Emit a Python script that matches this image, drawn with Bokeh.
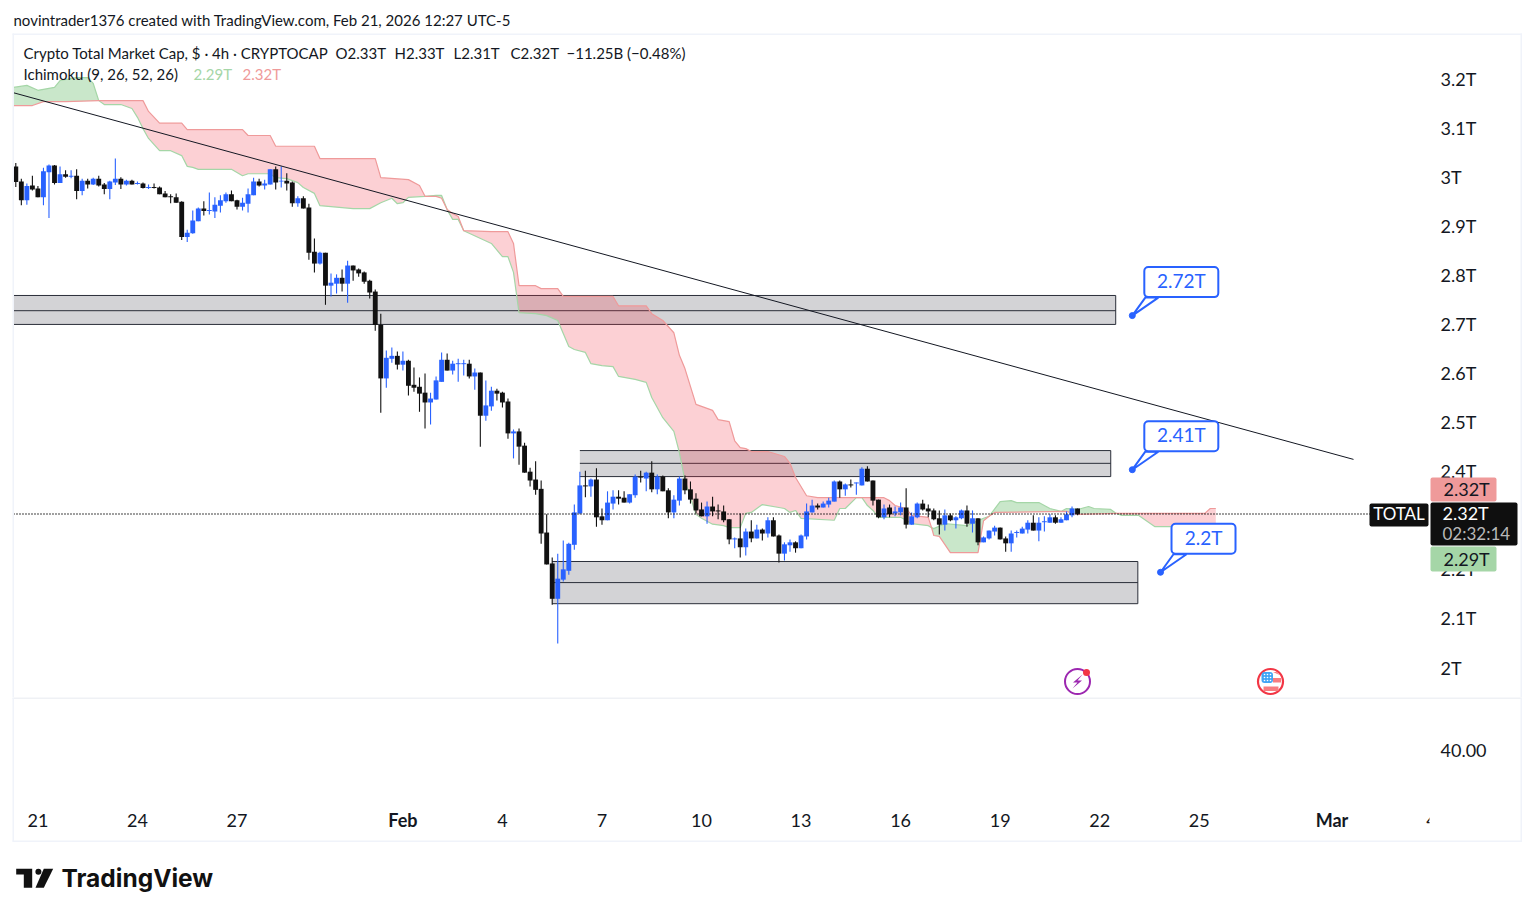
from bokeh.plotting import figure
from bokeh.layouts import column
from bokeh.models import Range1d, FixedTicker, Label, BoxAnnotation
from bokeh.embed import file_html
from bokeh.resources import INLINE

# ---------- candles (4h, values in trillions) ----------
opens = [3.021,2.990,2.952,2.982,2.976,2.958,3.009,3.023,2.987,3.005,
3.000,3.002,2.971,2.992,2.984,2.996,2.984,2.975,2.988,2.996,
2.984,2.992,2.985,2.986,2.977,2.979,2.978,2.966,2.960,2.958,
2.949,2.877,2.885,2.909,2.935,2.930,2.929,2.941,2.950,2.964,
2.952,2.939,2.945,2.962,2.990,2.982,2.984,3.015,2.990,2.992,
2.988,2.946,2.956,2.937,2.847,2.823,2.845,2.778,2.782,2.794,
2.782,2.819,2.811,2.805,2.788,2.766,2.698,2.589,2.629,2.635,
2.617,2.625,2.576,2.572,2.560,2.540,2.546,2.582,2.627,2.605,
2.618,2.618,2.619,2.593,2.601,2.513,2.532,2.564,2.560,2.542,
2.477,2.481,2.452,2.399,2.383,2.364,2.275,2.212,2.140,2.179,
2.197,2.250,2.314,2.371,2.369,2.383,2.308,2.300,2.334,2.348,
2.346,2.336,2.351,2.389,2.385,2.397,2.363,2.389,2.361,2.316,
2.340,2.385,2.363,2.344,2.322,2.308,2.328,2.320,2.318,2.302,
2.261,2.263,2.245,2.277,2.263,2.281,2.273,2.300,2.269,2.232,
2.249,2.255,2.243,2.267,2.316,2.330,2.326,2.332,2.338,2.379,
2.363,2.373,2.375,2.371,2.405,2.381,2.342,2.306,2.326,2.314,
2.316,2.326,2.291,2.306,2.334,2.324,2.320,2.304,2.291,2.310,
2.300,2.304,2.320,2.293,2.304,2.255,2.263,2.277,2.285,2.263,
2.253,2.274,2.273,2.281,2.295,2.279,2.296,2.295,2.306,2.295,
2.300,2.310,2.324]
highs = [3.028,2.996,2.986,3.002,2.981,3.018,3.025,3.024,3.021,3.013,
3.013,3.015,2.996,2.996,2.998,3.002,2.987,2.992,3.037,2.999,
2.994,2.994,2.990,2.988,2.984,2.986,2.980,2.971,2.964,2.966,
2.950,2.892,2.931,2.937,2.950,2.968,2.958,2.962,2.968,2.972,
2.953,2.957,2.976,2.998,2.996,2.994,3.015,3.021,3.021,3.007,
2.990,2.960,2.960,2.945,2.874,2.847,2.845,2.803,2.801,2.811,
2.829,2.819,2.813,2.807,2.790,2.770,2.721,2.646,2.652,2.644,
2.644,2.627,2.611,2.591,2.599,2.560,2.593,2.642,2.640,2.625,
2.629,2.627,2.627,2.609,2.601,2.585,2.572,2.568,2.562,2.548,
2.485,2.487,2.458,2.407,2.420,2.381,2.312,2.224,2.232,2.259,
2.254,2.332,2.399,2.401,2.385,2.406,2.324,2.359,2.361,2.361,
2.359,2.353,2.393,2.401,2.399,2.420,2.393,2.391,2.365,2.351,
2.389,2.391,2.379,2.355,2.336,2.338,2.348,2.332,2.330,2.302,
2.265,2.314,2.283,2.300,2.291,2.283,2.306,2.306,2.271,2.255,
2.261,2.257,2.271,2.334,2.342,2.334,2.338,2.346,2.381,2.381,
2.375,2.383,2.377,2.408,2.410,2.381,2.342,2.332,2.332,2.328,
2.336,2.365,2.316,2.336,2.342,2.332,2.324,2.320,2.322,2.314,
2.308,2.322,2.330,2.320,2.304,2.267,2.279,2.289,2.285,2.267,
2.279,2.279,2.287,2.300,2.310,2.306,2.308,2.312,2.310,2.306,
2.318,2.328,2.324]
lows = [2.979,2.942,2.943,2.972,2.958,2.942,2.916,2.984,2.987,2.998,
2.997,2.954,2.962,2.976,2.983,2.980,2.964,2.954,2.983,2.975,
2.982,2.984,2.984,2.976,2.975,2.976,2.964,2.958,2.946,2.947,
2.871,2.867,2.884,2.909,2.921,2.923,2.916,2.927,2.947,2.950,
2.933,2.931,2.927,2.962,2.980,2.974,2.984,2.974,2.978,2.972,
2.939,2.939,2.935,2.831,2.805,2.821,2.739,2.756,2.762,2.766,
2.743,2.788,2.796,2.782,2.752,2.686,2.519,2.570,2.621,2.607,
2.605,2.554,2.562,2.521,2.487,2.495,2.546,2.582,2.605,2.597,
2.582,2.595,2.589,2.566,2.450,2.503,2.523,2.544,2.530,2.466,
2.426,2.413,2.397,2.369,2.352,2.252,2.210,2.128,2.049,2.175,
2.189,2.240,2.312,2.347,2.348,2.287,2.291,2.300,2.322,2.332,
2.336,2.334,2.346,2.377,2.359,2.357,2.353,2.359,2.304,2.304,
2.330,2.353,2.334,2.314,2.308,2.293,2.308,2.302,2.296,2.251,
2.243,2.224,2.228,2.255,2.263,2.259,2.265,2.267,2.214,2.218,
2.236,2.234,2.243,2.261,2.316,2.322,2.326,2.326,2.338,2.346,
2.350,2.367,2.352,2.371,2.379,2.330,2.304,2.302,2.306,2.308,
2.310,2.283,2.291,2.304,2.320,2.306,2.300,2.271,2.279,2.298,
2.283,2.302,2.287,2.275,2.249,2.255,2.261,2.269,2.261,2.236,
2.236,2.265,2.273,2.273,2.279,2.257,2.277,2.295,2.293,2.295,
2.300,2.306,2.310]
closes = [2.989,2.952,2.981,2.974,2.958,3.011,3.023,2.987,3.005,3.000,
3.002,2.971,2.992,2.984,2.996,2.982,2.975,2.990,2.996,2.984,
2.992,2.984,2.987,2.977,2.979,2.977,2.964,2.958,2.958,2.947,
2.877,2.886,2.911,2.935,2.930,2.932,2.943,2.952,2.964,2.950,
2.939,2.947,2.964,2.990,2.982,2.986,3.015,2.988,2.992,2.986,
2.946,2.956,2.935,2.845,2.823,2.845,2.778,2.784,2.794,2.782,
2.819,2.809,2.803,2.786,2.764,2.698,2.589,2.631,2.635,2.617,
2.625,2.574,2.570,2.558,2.540,2.548,2.585,2.627,2.605,2.619,
2.620,2.620,2.593,2.601,2.513,2.534,2.564,2.558,2.540,2.477,
2.481,2.450,2.397,2.381,2.362,2.273,2.210,2.140,2.181,2.200,
2.252,2.316,2.371,2.369,2.383,2.306,2.300,2.336,2.348,2.344,
2.336,2.353,2.389,2.387,2.397,2.363,2.389,2.359,2.316,2.342,
2.385,2.361,2.342,2.320,2.308,2.328,2.318,2.318,2.300,2.261,
2.263,2.245,2.277,2.263,2.281,2.273,2.300,2.267,2.232,2.251,
2.255,2.243,2.269,2.318,2.330,2.326,2.334,2.340,2.379,2.363,
2.373,2.371,2.377,2.405,2.379,2.340,2.306,2.324,2.312,2.318,
2.326,2.291,2.308,2.334,2.322,2.318,2.302,2.291,2.310,2.300,
2.306,2.320,2.293,2.304,2.255,2.265,2.279,2.285,2.261,2.253,
2.273,2.276,2.283,2.295,2.279,2.295,2.298,2.306,2.295,2.302,
2.312,2.324,2.313]

# ---------- Ichimoku cloud, read at the candle slots where the lines bend ----------
span_a_i = [-0.4,2,4,5,7,8,11,13,14,15,16,19,21,22,23,24,26,28,30,31,32,33,39,41,42,46,47,49,51,52,54,55,61,64,66,68,69,70,71,74,76,77,78,79,80,81,86,88,89,90,91,94,96,98,100,101,103,104,106,108,109,112,114,115,117,119,120,121,123,124,126,128,129,131,132,133,135,138,139,140,141,142,148,149,150,152,153,154,155,156,160,161,162,165,165.6,166,168,172,175,176,178,180,181,185,187,189,190,192,194,195,198,199,200,203,206,209,211,214,217]
span_a = [3.182,3.186,3.176,3.178,3.182,3.196,3.202,3.202,3.190,3.155,3.147,3.147,3.139,3.121,3.098,3.078,3.053,3.053,3.043,3.021,3.019,3.015,3.015,3.002,3.006,3.006,2.998,2.996,2.988,2.978,2.966,2.941,2.935,2.935,2.947,2.956,2.945,2.947,2.958,2.960,2.962,2.962,2.933,2.913,2.913,2.890,2.864,2.837,2.837,2.805,2.723,2.721,2.717,2.707,2.654,2.648,2.642,2.619,2.615,2.613,2.593,2.587,2.581,2.550,2.509,2.481,2.438,2.381,2.312,2.304,2.292,2.289,2.285,2.285,2.314,2.316,2.332,2.326,2.324,2.316,2.320,2.304,2.300,2.324,2.324,2.346,2.346,2.330,2.320,2.306,2.306,2.300,2.293,2.289,2.285,2.283,2.293,2.289,2.304,2.308,2.338,2.340,2.336,2.336,2.324,2.318,2.324,2.322,2.328,2.324,2.322,2.314,2.310,2.310,2.287,2.287,2.285,2.287,2.289]
span_b_i = [-0.4,3,5,9,15,23,24,26,30,31,41,42,46,47,54,55,65,66,71,73,74,76,77,78,79,80,81,86,89,90,91,94,95,98,99,108,109,114,115,117,119,120,121,123,124,126,127,129,130,131,132,133,136,139,140,141,143,145,157,158,159,161,162,165,165.6,166,167,169,174,175,176,177,190,192,199,215,216,217]
span_b = [3.145,3.145,3.153,3.153,3.155,3.155,3.133,3.109,3.109,3.096,3.096,3.084,3.084,3.062,3.062,3.037,3.037,2.998,2.994,2.982,2.960,2.960,2.956,2.933,2.925,2.919,2.890,2.888,2.888,2.864,2.778,2.778,2.772,2.772,2.756,2.756,2.737,2.737,2.721,2.707,2.682,2.636,2.609,2.536,2.532,2.524,2.505,2.501,2.462,2.448,2.446,2.440,2.440,2.430,2.416,2.387,2.350,2.346,2.346,2.340,2.330,2.324,2.310,2.306,2.285,2.269,2.267,2.234,2.234,2.299,2.308,2.316,2.318,2.312,2.314,2.314,2.324,2.324]
cloud_breaks = [-0.4,15,74,78,165.6,199,217]

# ---------- drawings ----------
zone_left = [-0.4,102,97]
zone_right = [198.9,198.0,202.9]
zone_top = [2.758,2.442,2.216]
zone_mid = [2.727,2.416,2.173]
zone_bottom = [2.699,2.389,2.130]
trend_i = [-0.4,241.9]
trend_p = [3.171,2.424]
callout_text = ["2.72T","2.41T","2.2T"]
callout_i = [201.9,201.9,207.0]
callout_p = [2.717,2.403,2.194]
last_price = 2.3128
last_line_i = [-0.416,255.6]

# ---------- axes ----------
price_ticks = [2.0,2.1,2.2,2.3,2.4,2.5,2.6,2.7,2.8,2.9,3.0,3.1,3.2]
price_labels = ["2T","2.1T","2.2T","2.3T","2.4T","2.5T","2.6T","2.7T","2.8T","2.9T","3T","3.1T","3.2T"]
time_ticks = [4,22,40,88,106,124,142,160,178,196,214,256]
time_labels = ["21","24","27","4","7","10","13","16","19","22","25","4"]
month_ticks = [70,238]
month_labels = ["Feb","Mar"]

FONT = "Lato"
BLUE = "#2962ff"
BLACK = "#111111"
INK = "#131722"
EDGE = "#f0f3fa"
SLOT = 5.53
def ix(x): return (x-15.3)/SLOT
def py(y): return 2+(667-y)*0.0020375
def ty(y): return py(y-1.5)

main = figure(width=1526,height=697,output_backend="svg",toolbar_location=None,
    x_range=Range1d(ix(0),ix(1526)),y_range=Range1d(py(697),py(0)),
    x_axis_location=None,y_axis_location="right",
    min_border=0,
    background_fill_color="white",border_fill_color="white",outline_line_color=None)
main.grid.visible=False
ax=main.yaxis[0]
ax.ticker=FixedTicker(ticks=price_ticks)
ax.major_label_overrides=dict(zip(price_ticks,price_labels))
ax.axis_line_color=None; ax.major_tick_line_color=None; ax.minor_tick_line_color=None
ax.major_tick_out=0; ax.major_tick_in=0; ax.minor_tick_out=0
ax.major_label_standoff=-86
ax.major_label_text_font=FONT; ax.major_label_text_font_size="18px"; ax.major_label_text_color=INK

# zones
main.quad(left=zone_left,right=zone_right,top=zone_top,bottom=zone_bottom,fill_color="#d3d3d6",line_color=None)
for vals in (zone_top,zone_mid,zone_bottom):
    main.segment(zone_left,vals,zone_right,vals,line_color="#2a2e39",line_width=1)
main.segment(zone_right,zone_top,zone_right,zone_bottom,line_color="#2a2e39",line_width=1)

# cloud
for k in range(len(cloud_breaks)-1):
    lo,hi=cloud_breaks[k],cloud_breaks[k+1]
    ax_=[(i,v) for i,v in zip(span_a_i,span_a) if lo<=i<=hi]
    bx_=[(i,v) for i,v in zip(span_b_i,span_b) if lo<=i<=hi]
    pts=ax_+bx_[::-1]
    col,alpha=("#4caf50",0.3) if k%2==0 else ("#f23645",0.23)
    main.patch([q[0] for q in pts],[q[1] for q in pts],fill_color=col,fill_alpha=alpha,line_color=None)
main.line(span_a_i,span_a,line_color="#a5d6a7",line_width=1.2)
main.line(span_b_i,span_b,line_color="#ef9a9a",line_width=1.2)

# candles
idx=list(range(len(closes)))
colors=[BLUE if c>o else BLACK for o,c in zip(opens,closes)]
main.segment(idx,highs,idx,lows,line_color=colors,line_width=1.1)
main.vbar(x=idx,width=0.88,top=[max(o,c) for o,c in zip(opens,closes)],
          bottom=[min(o,c) for o,c in zip(opens,closes)],fill_color=colors,line_color=None)

# trend line and last price line
main.line(trend_i,trend_p,line_color=INK,line_width=1)
main.line(last_line_i,[last_price,last_price],line_color="#000000",line_width=1.3,line_dash=[1,2])

def text(fig,s,x,y,size="15px",color=INK,align="left",style="normal",font=FONT):
    fig.add_layout(Label(x=x,y=y,text=s,text_font=font,text_font_size=size,text_color=color,
        text_align=align,text_baseline="middle",text_font_style=style))

def box(fig,l,r,t,b,color,radius=0,lc=None,lw=1,yf=py):
    fig.add_layout(BoxAnnotation(left=ix(l),right=ix(r),top=yf(t),bottom=yf(b),fill_color=color,fill_alpha=1,
        line_color=lc,line_alpha=1,line_width=lw,border_radius=radius))

# callouts
for s,i,p in zip(callout_text,callout_i,callout_p):
    tx=15.3+SLOT*i; t_y=(2-p)/0.0020375+667
    dx=49 if len(s)==5 else 43
    hw=37 if len(s)==5 else 32
    main.patch([ix(tx),ix(tx+13),ix(tx+26)],[p,py(t_y-18),py(t_y-18)],fill_color="white",line_color=BLUE,line_width=2)
    main.scatter([i],[p],size=6,marker="circle",fill_color=BLUE,line_color=BLUE)
    box(main,tx+dx-hw,tx+dx+hw,t_y-48.5,t_y-18.5,"white",radius=4,lc=BLUE,lw=2)
    text(main,s,ix(tx+dx),ty(t_y-33.5),size="19px",color=BLUE,align="center")

# event icons
main.scatter([ix(1077)],[py(681)],size=25,marker="circle",fill_color="white",line_color="#9c27b0",line_width=2)
main.patch([ix(v) for v in (1082,1072.5,1077,1072,1081.5,1077)],[py(v) for v in (674,682,682,688,680,680)],fill_color="#9c27b0",line_color=None)
main.scatter([ix(1086)],[py(672)],size=7,marker="circle",fill_color="#f23645",line_color=None)
main.scatter([ix(1270)],[py(681)],size=25,marker="circle",fill_color="white",line_color="#f23645",line_width=2.2)
main.patch([ix(v) for v in (1272.5,1279,1276,1272.5)],[py(v) for v in (671.5,674.5,671.5,671.5)],fill_color="#f77c80",line_color=None)
main.quad(left=[ix(1272.5),ix(1263)],right=[ix(1280.5),ix(1278)],top=[py(677.5),py(686)],bottom=[py(682),py(690.5)],fill_color="#f77c80",line_color=None)
main.quad(left=[ix(1261)],right=[ix(1272.5)],top=[py(671.5)],bottom=[py(682.5)],fill_color="#42a5f5",line_color=None,border_radius=3)
main.scatter([ix(v) for v in (1264,1267,1270,1264,1267,1270,1264,1267,1270)],[py(v) for v in (674,674,674,677,677,677,680,680,680)],size=1.6,marker="circle",fill_color="white",line_color=None)

# header and legend
text(main,"novintrader1376 created with TradingView.com, Feb 21, 2026 12:27 UTC-5",ix(13),py(19))
text(main,"Crypto Total Market Cap, $ · 4h · CRYPTOCAP",ix(23),ty(54))
for s,x in zip(["O2.33T","H2.33T","L2.31T","C2.32T","−11.25B (−0.48%)"],[335,394,453,510,566]):
    text(main,s,ix(x),ty(54))
text(main,"Ichimoku (9, 26, 52, 26)",ix(23),ty(75))
text(main,"2.29T",ix(193),ty(75),color="#a5d6a7")
text(main,"2.32T",ix(242),ty(75),color="#ef9a9a")

# price tags
box(main,1369,1428,503,526,"#0f0f0f",radius=2)
text(main,"TOTAL",ix(1398.5),ty(514.5),size="17px",color="white",align="center")
box(main,1430,1496,477,501,"#ef9a9a",radius=2)
text(main,"2.32T",ix(1443),ty(489.5),size="18px",color=INK)
box(main,1430,1517,502,545,"#0f0f0f",radius=2)
text(main,"2.32T",ix(1442),ty(514),size="18px",color="white")
text(main,"02:32:14",ix(1442),ty(534.5),size="17px",color="#b9b9b9")
box(main,1430,1496,546,571,"#a5d6a7",radius=2)
text(main,"2.29T",ix(1443),ty(560),size="18px",color=INK)

# chart border (upper part)
box(main,12,1521.5,33,34.5,EDGE)
box(main,12,13.5,33,697,EDGE)
box(main,1520,1521.5,33,697,EDGE)

# lower, empty pane with the time axis
def sy(y): return 50-(y-697)*20/105
sub = figure(width=1526,height=145,output_backend="svg",toolbar_location=None,
    x_range=main.x_range,y_range=Range1d(sy(842),sy(697)),
    x_axis_location="below",y_axis_location="right",
    min_border=0,
    background_fill_color="white",border_fill_color="white",outline_line_color=None)
sub.grid.visible=False
for a,ticks,labels in ((sub.yaxis[0],[40],["40.00"]),(sub.xaxis[0],time_ticks,time_labels)):
    a.ticker=FixedTicker(ticks=ticks)
    a.major_label_overrides=dict(zip(ticks,labels))
    a.axis_line_color=None; a.major_tick_line_color=None; a.minor_tick_line_color=None
    a.major_tick_out=0; a.major_tick_in=0; a.minor_tick_out=0
    a.major_label_text_font=FONT; a.major_label_text_font_size="18px"; a.major_label_text_color=INK
sub.yaxis[0].major_label_standoff=-86
sub.xaxis[0].major_label_standoff=-29
for t,s in zip(month_ticks,month_labels):
    text(sub,s,t,sy(819.5),size="18px",align="center",style="bold")
box(sub,1429,1445,808,832,"white",yf=sy)
box(sub,12,1521.5,697,698,"#e0e3eb",yf=sy)
box(sub,12,13.5,697,841,EDGE,yf=sy)
box(sub,1520,1521.5,697,841,EDGE,yf=sy)
box(sub,12,1521.5,840,841.5,EDGE,yf=sy)

# footer with the logo
foot = figure(width=1526,height=66,output_backend="svg",toolbar_location=None,
    x_range=Range1d(0,1526),y_range=Range1d(908,842),x_axis_location=None,y_axis_location=None,
    min_border=0,background_fill_color="white",border_fill_color="white",outline_line_color=None)
foot.grid.visible=False
foot.patch([15.7,31.7,31.7,23.3,23.3,15.7],[868.3,868.3,887.3,887.3,874,874],fill_color=BLACK,line_color=None)
foot.patch([43.3,52.7,43.3,35],[868.3,868.3,887.3,887.3],fill_color=BLACK,line_color=None)
foot.scatter([37.9],[871.2],size=6,marker="circle",fill_color=BLACK,line_color=None)
foot.add_layout(Label(x=61,y=877.5,text="TradingView",text_font="Inter",text_font_size="24.5px",text_font_style="bold",
    text_color=BLACK,text_align="left",text_baseline="middle"))

open("out.html","w").write(file_html(column(main,sub,foot,spacing=0),INLINE))
